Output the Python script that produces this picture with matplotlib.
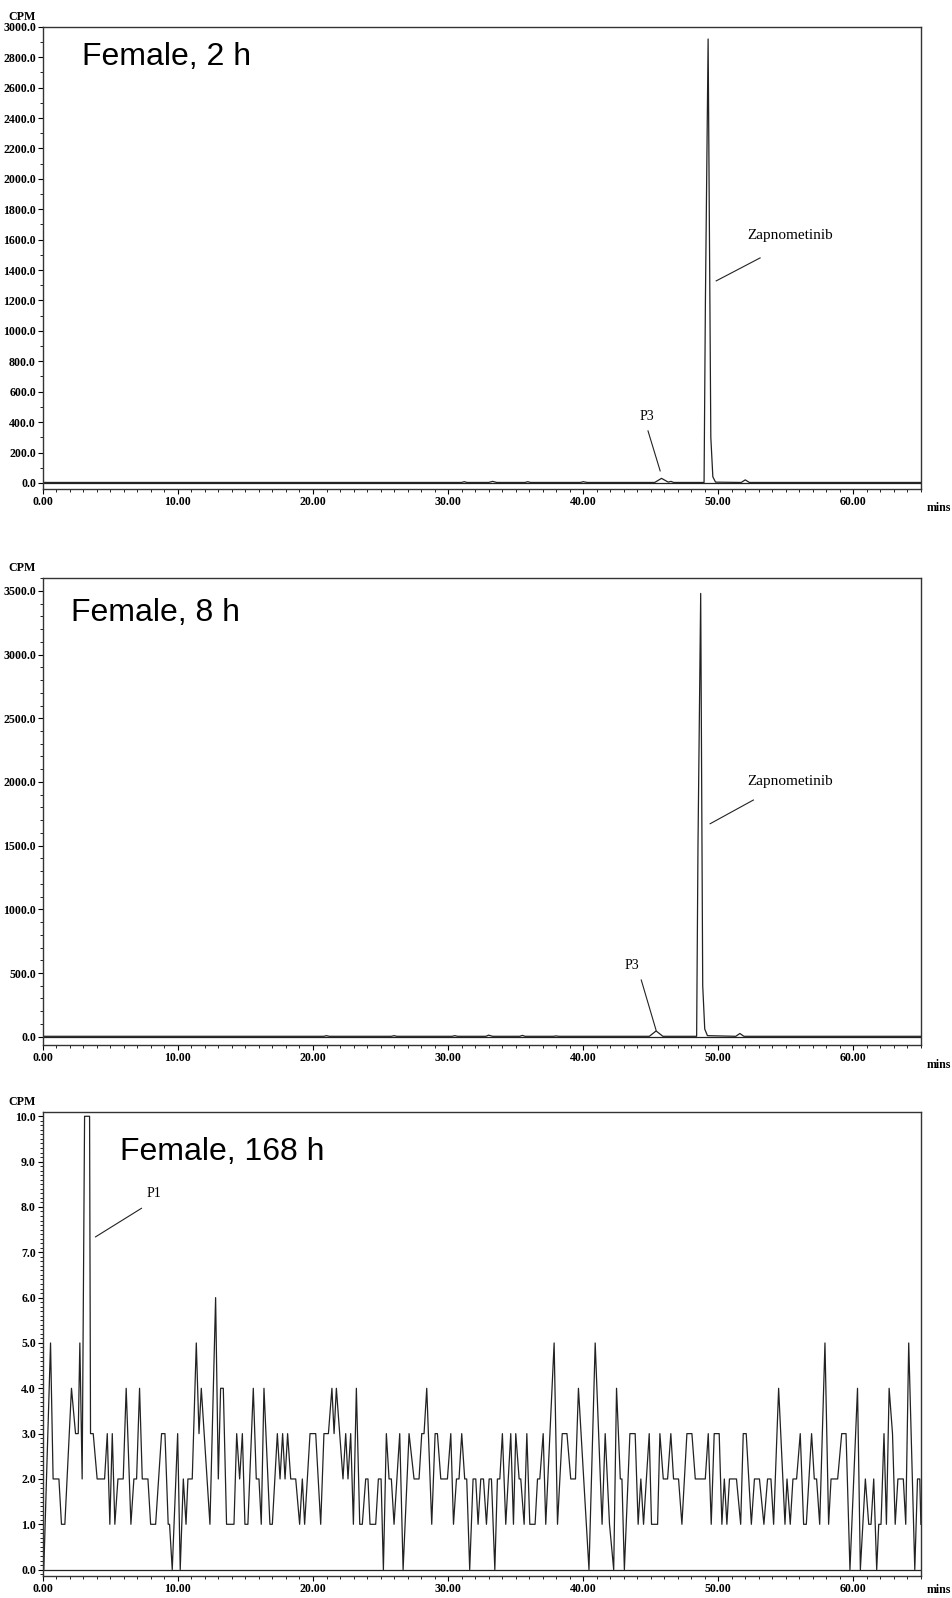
import matplotlib
matplotlib.use("Agg")
import matplotlib.pyplot as plt
from matplotlib.ticker import MultipleLocator, FormatStrFormatter

# ── Data ──────────────────────────────────────────────────────────────────────

# Female, 2 h
t_2h = [0.0, 31.0, 31.2, 31.4, 33.0, 33.3, 33.6, 35.7, 35.9, 36.1, 39.8, 40.0, 40.3,
        45.3, 45.8, 46.3, 46.5, 46.7, 48.95, 49.05, 49.25, 49.45, 49.6, 49.8,
        51.7, 52.0, 52.3, 65.0]
cpm_2h = [3, 3, 8, 3, 3, 10, 3, 3, 8, 3, 3, 8, 3,
          3, 30, 5, 10, 3, 3, 1200, 2920, 300, 40, 5,
          3, 20, 3, 3]

# Female, 8 h
t_8h = [0.0, 20.8, 21.0, 21.2, 25.8, 26.0, 26.2, 30.3, 30.5, 30.7, 32.8, 33.0, 33.3,
        35.3, 35.5, 35.7, 37.8, 38.0, 38.2, 44.9, 45.4, 45.9, 48.4, 48.5, 48.7,
        48.85, 49.0, 49.2, 51.3, 51.6, 51.9, 65.0]
cpm_8h = [3, 3, 8, 3, 3, 8, 3, 3, 8, 3, 3, 12, 3,
          3, 10, 3, 3, 6, 3, 3, 45, 3, 3, 1500, 3480,
          400, 60, 8, 3, 25, 3, 3]

# Female, 168 h (vertices of the noisy trace)
t_168h = [0.0, 0.07, 0.57, 0.76, 1.19, 1.38, 1.63, 2.12, 2.42, 2.62, 2.74, 2.91, 3.09, 3.46,
          3.53, 3.73, 4.02, 4.57, 4.77, 4.96, 5.14, 5.33, 5.56, 5.95, 6.17, 6.52, 6.74, 6.94,
          7.16, 7.36, 7.78, 7.98, 8.35, 8.79, 9.04, 9.28, 9.38, 9.58, 9.98, 10.17, 10.4, 10.6,
          10.74, 11.06, 11.36, 11.56, 11.73, 12.37, 12.79, 12.99, 13.16, 13.36, 13.6, 14.15,
          14.35, 14.57, 14.77, 14.96, 15.18, 15.58, 15.8, 16.0, 16.17, 16.37, 16.81, 16.99,
          17.36, 17.56, 17.75, 17.93, 18.12, 18.35, 18.72, 19.01, 19.21, 19.38, 19.78, 20.2,
          20.57, 20.81, 21.14, 21.4, 21.56, 21.73, 22.22, 22.42, 22.59, 22.79, 22.99, 23.21,
          23.46, 23.65, 23.9, 24.07, 24.22, 24.64, 24.84, 25.04, 25.21, 25.43, 25.63, 25.8,
          26.0, 26.42, 26.67, 27.11, 27.48, 27.85, 28.05, 28.22, 28.42, 28.79, 29.04, 29.21,
          29.46, 29.95, 30.2, 30.4, 30.62, 30.81, 31.01, 31.23, 31.38, 31.6, 31.85, 32.05,
          32.22, 32.42, 32.62, 32.84, 33.04, 33.21, 33.46, 33.65, 33.83, 34.02, 34.27, 34.64,
          34.84, 35.01, 35.26, 35.38, 35.63, 35.83, 36.05, 36.44, 36.62, 36.79, 37.04, 37.23,
          37.85, 38.1, 38.45, 38.8, 39.08, 39.43, 39.65, 40.43, 40.89, 41.4, 41.63, 41.95,
          42.26, 42.47, 42.75, 42.87, 43.05, 43.46, 43.85, 44.07, 44.27, 44.47, 44.89, 45.06,
          45.51, 45.68, 45.93, 46.25, 46.49, 46.69, 47.06, 47.31, 47.68, 48.05, 48.3, 49.04,
          49.26, 49.48, 49.7, 50.07, 50.27, 50.45, 50.64, 50.83, 51.35, 51.66, 51.85, 52.07,
          52.45, 52.68, 53.05, 53.38, 53.65, 53.9, 54.1, 54.47, 54.94, 55.09, 55.33, 55.53,
          55.8, 56.07, 56.32, 56.52, 56.91, 57.11, 57.28, 57.51, 57.9, 58.17, 58.35, 58.84,
          59.14, 59.46, 59.75, 60.31, 60.52, 60.89, 61.14, 61.31, 61.51, 61.73, 61.88, 62.05,
          62.27, 62.45, 62.65, 62.9, 63.1, 63.3, 63.7, 63.88, 64.1, 64.55, 64.75, 64.92, 65.0]
cpm_168h = [1, 0, 5, 2, 2, 1, 1, 4, 3, 3, 5, 2, 10, 10,
            3, 3, 2, 2, 3, 1, 3, 1, 2, 2, 4, 1, 2, 2,
            4, 2, 2, 1, 1, 3, 3, 1, 1, 0, 3, 0, 2, 1,
            2, 2, 5, 3, 4, 1, 6, 2, 4, 4, 1, 1,
            3, 2, 3, 1, 1, 4, 2, 2, 1, 4, 1, 1,
            3, 2, 3, 2, 3, 2, 2, 1, 2, 1, 3, 3,
            1, 3, 3, 4, 3, 4, 2, 3, 2, 3, 1, 4,
            1, 1, 2, 2, 1, 1, 2, 2, 0, 3, 2, 2,
            1, 3, 0, 3, 2, 2, 3, 3, 4, 1, 3, 3,
            2, 2, 3, 1, 2, 2, 3, 2, 2, 0, 2, 2,
            1, 2, 2, 1, 2, 2, 0, 2, 2, 3, 1, 3,
            1, 3, 2, 2, 1, 3, 1, 1, 2, 2, 3, 1,
            5, 1, 3, 3, 2, 2, 4, 0, 5, 1, 3, 1,
            0, 4, 2, 2, 0, 3, 3, 1, 2, 1, 3, 1,
            1, 3, 2, 2, 3, 2, 2, 1, 3, 3, 2, 2,
            3, 1, 3, 3, 1, 2, 1, 2, 2, 1, 3, 3,
            1, 2, 2, 1, 2, 2, 1, 4, 1, 2, 1, 2,
            2, 3, 1, 1, 3, 2, 2, 1, 5, 1, 2, 2,
            3, 3, 0, 4, 0, 2, 1, 1, 2, 0, 1, 1,
            3, 1, 4, 3, 1, 2, 2, 1, 5, 0, 2, 2, 1]

TITLES = ["Female, 2 h", "Female, 8 h", "Female, 168 h"]

# ── Style ─────────────────────────────────────────────────────────────────────

SERIF = "Liberation Serif"
SANS = "Liberation Sans"
LINE = "#222222"

fig = plt.figure(figsize=(9.52, 15.98), dpi=100)

left, width = 0.045, 0.9223
ax1 = fig.add_axes([left, 0.694, width, 0.2892])
ax2 = fig.add_axes([left, 0.346, width, 0.2922])
ax3 = fig.add_axes([left, 0.0135, width, 0.2905])


def style_axis(ax, ylim, ymajor, yminor, title, title_xy, mins_y=-0.042):
    ax.set_xlim(0, 65)
    ax.set_ylim(*ylim)
    ax.axhline(0, color=LINE, lw=0.9, zorder=1)
    ax.xaxis.set_major_locator(MultipleLocator(10))
    ax.xaxis.set_minor_locator(MultipleLocator(1))
    ax.yaxis.set_major_locator(MultipleLocator(ymajor))
    ax.yaxis.set_minor_locator(MultipleLocator(yminor))
    ax.xaxis.set_major_formatter(FormatStrFormatter("%.2f"))
    ax.yaxis.set_major_formatter(FormatStrFormatter("%.1f"))
    ax.tick_params(which="major", length=3.5, width=0.8, pad=1.5)
    ax.tick_params(which="minor", length=2, width=0.6)
    for lab in ax.get_xticklabels() + ax.get_yticklabels():
        lab.set_fontfamily(SERIF)
        lab.set_fontweight("bold")
        lab.set_fontsize(8.6)
    for sp in ax.spines.values():
        sp.set_linewidth(1.0)
        sp.set_color("#333333")
    ax.text(-0.024, 1.008, "CPM", transform=ax.transAxes, ha="center", va="bottom",
            fontfamily=SERIF, fontweight="bold", fontsize=8.6)
    ax.text(1.02, mins_y, "mins", transform=ax.transAxes, ha="center", va="center",
            fontfamily=SERIF, fontweight="bold", fontsize=8.6)
    ax.text(title_xy[0], title_xy[1], title, transform=ax.transAxes, ha="left", va="center",
            fontfamily=SANS, fontsize=23)


# ── Panel 1 ──
ax1.plot(t_2h, cpm_2h, color=LINE, lw=0.9)
style_axis(ax1, (-40, 3000), 200, 100, TITLES[0], (0.045, 0.935))
ax1.plot([44.8, 45.7], [342, 79], color=LINE, lw=0.8)
ax1.text(44.7, 440, "P3", fontfamily=SERIF, fontsize=10, ha="center", va="center")
ax1.plot([53.1, 49.85], [1480, 1329], color=LINE, lw=0.8)
ax1.text(55.3, 1630, "Zapnometinib", fontfamily=SERIF, fontsize=11, ha="center", va="center")

# ── Panel 2 ──
ax2.plot(t_8h, cpm_8h, color=LINE, lw=0.9)
style_axis(ax2, (-66, 3600), 500, 100, TITLES[1], (0.032, 0.925))
ax2.plot([44.3, 45.4], [445, 50], color=LINE, lw=0.8)
ax2.text(43.6, 555, "P3", fontfamily=SERIF, fontsize=10, ha="center", va="center")
ax2.plot([52.6, 49.4], [1858, 1672], color=LINE, lw=0.8)
ax2.text(55.3, 2000, "Zapnometinib", fontfamily=SERIF, fontsize=11, ha="center", va="center")

# ── Panel 3 ──
ax3.plot(t_168h, cpm_168h, color=LINE, lw=0.9)
style_axis(ax3, (-0.15, 10.09), 1.0, 0.1, TITLES[2], (0.088, 0.915), mins_y=-0.03)
ax3.plot([7.3, 3.9], [7.97, 7.34], color=LINE, lw=0.8)
ax3.text(8.2, 8.3, "P1", fontfamily=SERIF, fontsize=10, ha="center", va="center")

fig.savefig("out.png", dpi=100)
